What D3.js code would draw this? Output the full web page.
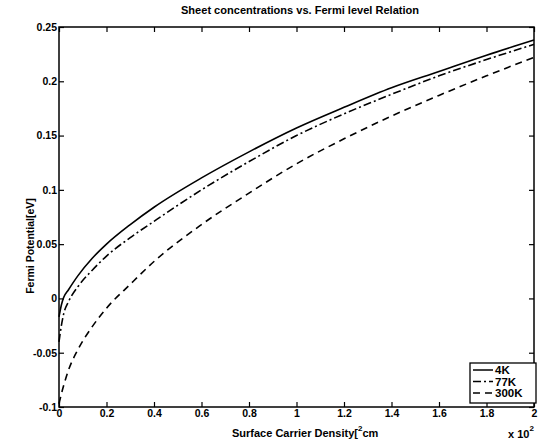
<!DOCTYPE html>
<html>
<head>
<meta charset="utf-8">
<script src="https://cdn.jsdelivr.net/npm/d3@7"></script>
<style>
  body { margin: 0; background: #fff; }
  svg { display: block; font-family: "Liberation Sans", Arial, sans-serif; font-weight: bold; }
</style>
</head>
<body>
<div id="container"></div>
<script>
// ******* Data *******
var density = [0, 0.01, 0.02, 0.04, 0.08, 0.14, 0.2, 0.3, 0.4, 0.6, 0.8, 1.0, 1.2, 1.4, 1.6, 1.8, 2.0]
var fermi_4K   = [-0.017, -0.006, 0.001, 0.008, 0.021, 0.037, 0.050, 0.068, 0.084, 0.111, 0.135, 0.157, 0.176, 0.194, 0.209, 0.224, 0.238]
var fermi_77K  = [-0.040, -0.025, -0.014, -0.003, 0.011, 0.026, 0.039, 0.056, 0.071, 0.100, 0.126, 0.150, 0.170, 0.188, 0.205, 0.220, 0.234]
var fermi_300K = [-0.097, -0.088, -0.080, -0.066, -0.047, -0.026, -0.009, 0.013, 0.034, 0.068, 0.097, 0.124, 0.147, 0.168, 0.187, 0.205, 0.222]
var series_names = ["4K", "77K", "300K"]
var x_ticks = [0, 0.2, 0.4, 0.6, 0.8, 1, 1.2, 1.4, 1.6, 1.8, 2]
var y_ticks = [-0.1, -0.05, 0, 0.05, 0.1, 0.15, 0.2, 0.25]
var dashes = {"4K": null, "77K": "8,3,2,3", "300K": "7,5"}

var width = 544, height = 445;
var margin = {top: 27, right: 10, bottom: 38, left: 59};

var svg = d3.select("#container").append("svg")
  .attr("width", width)
  .attr("height", height)

var x = d3.scaleLinear().domain([0, 2]).range([margin.left, width - margin.right]);
var y = d3.scaleLinear().domain([-0.1, 0.25]).range([height - margin.bottom, margin.top]);

var fmt = function(d) { return String(d); }

// ******* Axes, MATLAB style ticks pointing inward *******
svg.append("g")
  .attr("transform", "translate(0," + (height - margin.bottom) + ")")
  .call(d3.axisBottom(x).tickValues(x_ticks).tickFormat(fmt).tickSizeInner(-5).tickSizeOuter(0).tickPadding(3))
svg.append("g")
  .attr("transform", "translate(" + margin.left + ",0)")
  .call(d3.axisLeft(y).tickValues(y_ticks).tickFormat(fmt).tickSizeInner(-5).tickSizeOuter(0).tickPadding(2))
svg.append("g")
  .attr("transform", "translate(0," + margin.top + ")")
  .call(d3.axisTop(x).tickValues(x_ticks).tickFormat("").tickSizeInner(-5).tickSizeOuter(0))
svg.append("g")
  .attr("transform", "translate(" + (width - margin.right) + ",0)")
  .call(d3.axisRight(y).tickValues(y_ticks).tickFormat("").tickSizeInner(-5).tickSizeOuter(0))

svg.selectAll(".domain").remove();
svg.selectAll(".tick line").attr("stroke", "#000").attr("stroke-width", 1.2);
svg.selectAll(".tick text")
  .attr("fill", "#000")
  .style("font-size", "10.5px")
  .style("font-weight", "bold")
  .style("font-family", "'Liberation Sans', Arial, sans-serif");

// box frame
svg.append("rect")
  .attr("x", margin.left)
  .attr("y", margin.top)
  .attr("width", width - margin.left - margin.right)
  .attr("height", height - margin.top - margin.bottom)
  .attr("fill", "none")
  .attr("stroke", "#000")
  .attr("stroke-width", 1.5)

// ******* Curves *******
var all_series = {"4K": fermi_4K, "77K": fermi_77K, "300K": fermi_300K}
var line = d3.line()
  .x(function(d) { return x(d[0]); })
  .y(function(d) { return y(d[1]); })
  .curve(d3.curveMonotoneX)

series_names.forEach(function(name) {
  var pts = density.map(function(d, i) { return [d, all_series[name][i]]; })
  svg.append("path")
    .datum(pts)
    .attr("d", line)
    .attr("fill", "none")
    .attr("stroke", "#000")
    .attr("stroke-width", 1.6)
    .attr("stroke-dasharray", dashes[name])
})

// ******* Legend *******
var lg = svg.append("g").attr("transform", "translate(470,363)")
lg.append("rect")
  .attr("width", 66).attr("height", 40)
  .attr("fill", "#fff").attr("stroke", "#000").attr("stroke-width", 1.3)
series_names.forEach(function(name, i) {
  var ly = 7 + i * 11.5;
  lg.append("line")
    .attr("x1", 3).attr("x2", 23).attr("y1", ly).attr("y2", ly)
    .attr("stroke", "#000").attr("stroke-width", 1.5)
    .attr("stroke-dasharray", dashes[name])
  lg.append("text")
    .attr("x", 25).attr("y", ly + 4)
    .style("font-size", "11.5px")
    .text(name)
})

// ******* Titles *******
svg.append("text")
  .attr("x", 300).attr("y", 14)
  .attr("text-anchor", "middle")
  .attr("textLength", 238).attr("lengthAdjust", "spacingAndGlyphs")
  .style("font-size", "11px")
  .text("Sheet concentrations vs. Fermi level Relation");

var xl = svg.append("text")
  .attr("x", 232).attr("y", 437)
  .style("font-size", "11px")
xl.append("tspan").text("Surface Carrier Density[")
xl.append("tspan").attr("dy", -6).style("font-size", "8px").text("2")
xl.append("tspan").attr("dy", 6).text("cm")

svg.append("text")
  .attr("text-anchor", "middle")
  .attr("transform", "translate(" + 34 + "," + 246 + ")rotate(-90)")
  .style("font-size", "10.5px")
  .text("Fermi Potential[eV]");

var mult = svg.append("text")
  .attr("x", 508).attr("y", 438)
  .style("font-size", "11px")
mult.append("tspan").text("x 10")
mult.append("tspan").attr("dy", -7).style("font-size", "8px").text("2")
</script>
</body>
</html>
